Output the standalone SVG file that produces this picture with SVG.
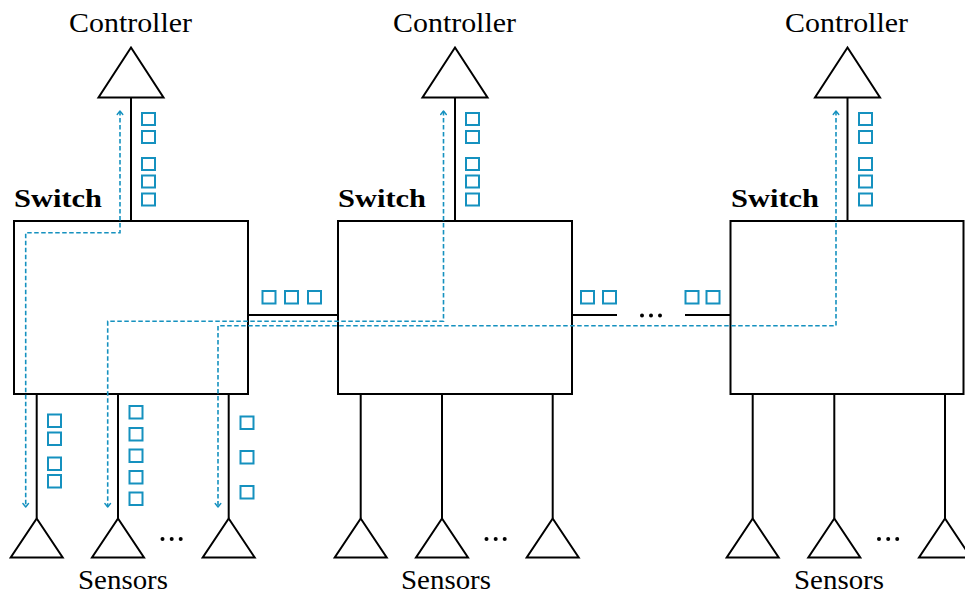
<svg xmlns="http://www.w3.org/2000/svg" width="965" height="595" viewBox="0 0 965 595">
  <style>
    .ln { fill: none; stroke: #000; stroke-width: 2; }
    .box { fill: #fff; stroke: #000; stroke-width: 2; }
    .tri { fill: #fff; stroke: #000; stroke-width: 2; stroke-linejoin: miter; }
    .pkt { fill: #fff; stroke: #1591bf; stroke-width: 2; }
    .flow { fill: none; stroke: #1591bf; stroke-width: 1.6; stroke-dasharray: 4.5 2.5; marker-start: url(#tip); marker-end: url(#tip); }
    .lbl { font-size: 27px; fill: #000; }
    .sw { font-size: 26px; font-weight: bold; fill: #000; }
    .dot { fill: #000; }
  </style>
  <defs>
    <marker id="tip" viewBox="-5 -4 6 8" refX="0" refY="0" markerWidth="6" markerHeight="8" markerUnits="userSpaceOnUse" orient="auto-start-reverse">
      <path d="M-3.5,-2.8 L0,0 L-3.5,2.8" fill="none" stroke="#1591bf" stroke-width="1.4" stroke-linecap="round" stroke-linejoin="round"/>
    </marker>
  </defs>

  <!-- switch-to-switch links -->
  <g id="links">
    <line class="ln" x1="248" y1="315" x2="338" y2="315"/>
    <line class="ln" x1="572" y1="315" x2="617" y2="315"/>
    <line class="ln" x1="685" y1="315" x2="730.5" y2="315"/>
    <circle class="dot" cx="642" cy="315.5" r="2"/>
    <circle class="dot" cx="651" cy="315.5" r="2"/>
    <circle class="dot" cx="660" cy="315.5" r="2"/>
    <rect class="pkt" x="262.5" y="291" width="13" height="12.5"/>
    <rect class="pkt" x="285" y="291" width="13" height="12.5"/>
    <rect class="pkt" x="308" y="291" width="13" height="12.5"/>
    <rect class="pkt" x="581" y="291" width="13" height="12.5"/>
    <rect class="pkt" x="603" y="291" width="13" height="12.5"/>
    <rect class="pkt" x="685.5" y="291" width="13" height="12.5"/>
    <rect class="pkt" x="706.5" y="291" width="13" height="12.5"/>
  </g>

  <!-- switch 1 with its controller and sensors -->
  <g id="switch1" font-family="'Liberation Serif', 'Times New Roman', serif">
    <line class="ln" x1="131" y1="97.5" x2="131" y2="221"/>
    <polygon class="tri" points="131,47.5 163.5,97.5 98.5,97.5"/>
    <text class="lbl" x="130.5" y="31.5" text-anchor="middle" textLength="123" lengthAdjust="spacingAndGlyphs">Controller</text>
    <text class="sw" x="14" y="207" textLength="88" lengthAdjust="spacingAndGlyphs">Switch</text>
    <rect class="box" x="14" y="221" width="234" height="173"/>
    <line class="ln" x1="36.7" y1="394" x2="36.7" y2="518.5"/>
    <line class="ln" x1="118" y1="394" x2="118" y2="518.5"/>
    <line class="ln" x1="228.7" y1="394" x2="228.7" y2="518.5"/>
    <polygon class="tri" points="36.7,518.5 62.7,557.5 10.7,557.5"/>
    <polygon class="tri" points="118,518.5 144,557.5 92,557.5"/>
    <polygon class="tri" points="228.7,518.5 254.7,557.5 202.7,557.5"/>
    <circle class="dot" cx="162.5" cy="539" r="2"/>
    <circle class="dot" cx="171.7" cy="539" r="2"/>
    <circle class="dot" cx="180.7" cy="539" r="2"/>
    <text class="lbl" x="123" y="589" text-anchor="middle" textLength="90" lengthAdjust="spacingAndGlyphs">Sensors</text>
    <!-- uplink queue -->
    <rect class="pkt" x="142" y="113" width="13" height="12"/>
    <rect class="pkt" x="142" y="131" width="13" height="12"/>
    <rect class="pkt" x="142" y="158" width="13" height="12"/>
    <rect class="pkt" x="142" y="175.5" width="13" height="12"/>
    <rect class="pkt" x="142" y="193.5" width="13" height="12"/>
    <!-- sensor queues -->
    <rect class="pkt" x="48" y="414.5" width="13" height="12.5"/>
    <rect class="pkt" x="48" y="432.5" width="13" height="12.5"/>
    <rect class="pkt" x="48" y="457.5" width="13" height="12.5"/>
    <rect class="pkt" x="48" y="475" width="13" height="12.5"/>
    <rect class="pkt" x="129.5" y="406" width="13" height="12.5"/>
    <rect class="pkt" x="129.5" y="428" width="13" height="12.5"/>
    <rect class="pkt" x="129.5" y="449.5" width="13" height="12.5"/>
    <rect class="pkt" x="129.5" y="471" width="13" height="12.5"/>
    <rect class="pkt" x="129.5" y="492.5" width="13" height="12.5"/>
    <rect class="pkt" x="240.5" y="416.5" width="13" height="12.5"/>
    <rect class="pkt" x="240.5" y="451" width="13" height="12.5"/>
    <rect class="pkt" x="240.5" y="486" width="13" height="12.5"/>
  </g>

  <!-- switch 2 -->
  <g id="switch2" font-family="'Liberation Serif', 'Times New Roman', serif">
    <line class="ln" x1="455" y1="97.5" x2="455" y2="221"/>
    <polygon class="tri" points="455,47.5 487.5,97.5 422.5,97.5"/>
    <text class="lbl" x="454.5" y="31.5" text-anchor="middle" textLength="123" lengthAdjust="spacingAndGlyphs">Controller</text>
    <text class="sw" x="338" y="207" textLength="88" lengthAdjust="spacingAndGlyphs">Switch</text>
    <rect class="box" x="338" y="221" width="234" height="173"/>
    <line class="ln" x1="360.7" y1="394" x2="360.7" y2="518.5"/>
    <line class="ln" x1="442" y1="394" x2="442" y2="518.5"/>
    <line class="ln" x1="552.7" y1="394" x2="552.7" y2="518.5"/>
    <polygon class="tri" points="360.7,518.5 386.7,557.5 334.7,557.5"/>
    <polygon class="tri" points="442,518.5 468,557.5 416,557.5"/>
    <polygon class="tri" points="552.7,518.5 578.7,557.5 526.7,557.5"/>
    <circle class="dot" cx="486.5" cy="539" r="2"/>
    <circle class="dot" cx="495.7" cy="539" r="2"/>
    <circle class="dot" cx="504.7" cy="539" r="2"/>
    <text class="lbl" x="446" y="589" text-anchor="middle" textLength="90" lengthAdjust="spacingAndGlyphs">Sensors</text>
    <rect class="pkt" x="466" y="113" width="13" height="12"/>
    <rect class="pkt" x="466" y="131" width="13" height="12"/>
    <rect class="pkt" x="466" y="158" width="13" height="12"/>
    <rect class="pkt" x="466" y="175.5" width="13" height="12"/>
    <rect class="pkt" x="466" y="193.5" width="13" height="12"/>
  </g>

  <!-- switch 3 -->
  <g id="switch3" font-family="'Liberation Serif', 'Times New Roman', serif">
    <line class="ln" x1="847.5" y1="97.5" x2="847.5" y2="221"/>
    <polygon class="tri" points="847.5,47.5 880,97.5 815,97.5"/>
    <text class="lbl" x="846.5" y="31.5" text-anchor="middle" textLength="123" lengthAdjust="spacingAndGlyphs">Controller</text>
    <text class="sw" x="731" y="207" textLength="88" lengthAdjust="spacingAndGlyphs">Switch</text>
    <rect class="box" x="730.5" y="221" width="233" height="173"/>
    <line class="ln" x1="752.7" y1="394" x2="752.7" y2="518.5"/>
    <line class="ln" x1="834.3" y1="394" x2="834.3" y2="518.5"/>
    <line class="ln" x1="945" y1="394" x2="945" y2="518.5"/>
    <polygon class="tri" points="752.7,518.5 778.7,557.5 726.7,557.5"/>
    <polygon class="tri" points="834.3,518.5 860.3,557.5 808.3,557.5"/>
    <polygon class="tri" points="945,518.5 971,557.5 919,557.5"/>
    <circle class="dot" cx="879" cy="539" r="2"/>
    <circle class="dot" cx="888.2" cy="539" r="2"/>
    <circle class="dot" cx="897.2" cy="539" r="2"/>
    <text class="lbl" x="839" y="589" text-anchor="middle" textLength="90" lengthAdjust="spacingAndGlyphs">Sensors</text>
    <rect class="pkt" x="859" y="113" width="13" height="12"/>
    <rect class="pkt" x="859" y="131" width="13" height="12"/>
    <rect class="pkt" x="859" y="158" width="13" height="12"/>
    <rect class="pkt" x="859" y="175.5" width="13" height="12"/>
    <rect class="pkt" x="859" y="193.5" width="13" height="12"/>
  </g>

  <!-- controller-to-sensor flows -->
  <g id="flows">
    <path class="flow" d="M120,111 V232.7 H25.7 V507"/>
    <path class="flow" d="M443.5,111 V321.3 H107.7 V507"/>
    <path class="flow" d="M836,111 V325.7 H218 V507"/>
  </g>
</svg>
